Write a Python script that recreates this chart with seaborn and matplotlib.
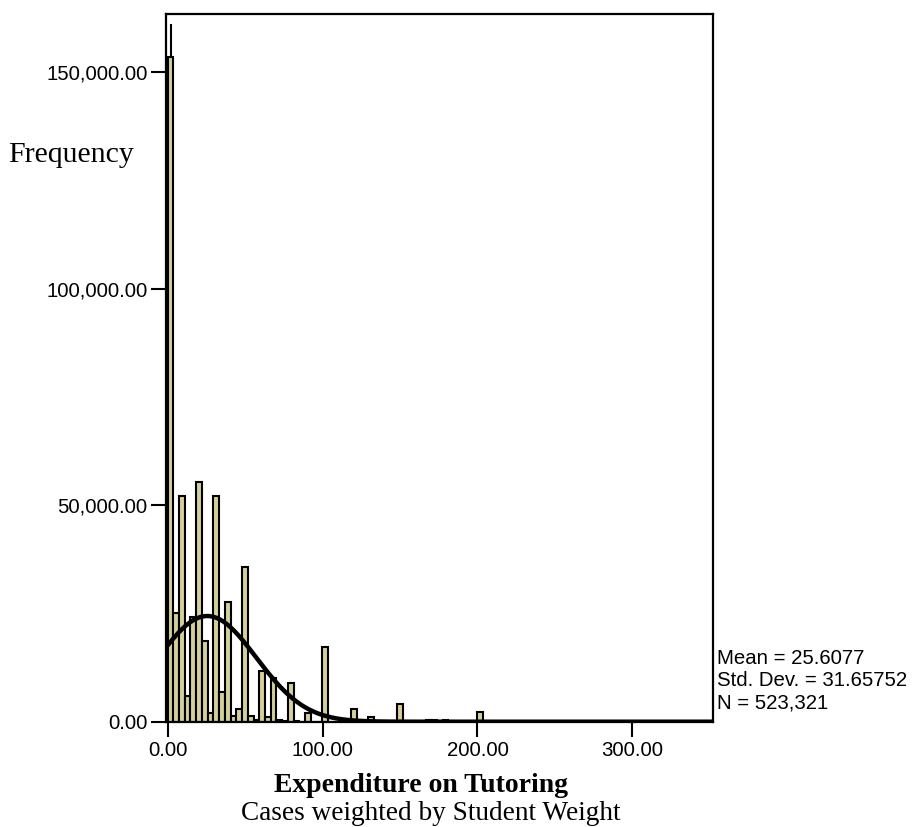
import numpy as np
import pandas as pd
import matplotlib
matplotlib.use("Agg")
import matplotlib.pyplot as plt
import seaborn as sns

# ---- data ----
bin_width = 3.7
bin_index = [0, 1, 2, 3, 4, 5, 6, 7, 8, 9, 10, 11, 12, 13, 14, 15, 16, 17, 18, 19,
             20, 21, 22, 24, 27, 32, 35, 40, 45, 46, 48, 54]
frequency = [153500, 25200, 52000, 5900, 24200, 55300, 18700, 2100, 52000, 6900,
             27700, 1300, 3000, 35800, 1300, 300, 11700, 1200, 10000, 500,
             200, 9000, 100, 2000, 17300, 2900, 1000, 4100, 300, 300, 300, 2300]
spike_x = [1.9]
spike_range = [153500, 161000]

mean_val = 25.6077
std_val = 31.65752
n_val = 523321

x_ticks = [0, 100, 200, 300]
y_ticks = [0, 50000, 100000, 150000]

df = pd.DataFrame({"center": np.array(bin_index) * bin_width + bin_width / 2,
                   "freq": frequency})
edges = [float(k * bin_width) for k in range(max(bin_index) + 2)]

# ---- figure ----
sns.set_style("white")
plt.rcParams["font.family"] = ["Liberation Sans", "DejaVu Sans"]
plt.rcParams["text.color"] = "black"
W, H = 915, 827
fig = plt.figure(figsize=(W / 100, H / 100), dpi=100)
ax = fig.add_axes([165.7 / W, 1 - 721.7 / H, (713 - 165.7) / W, (721.7 - 14.3) / H])

sns.histplot(data=df, x="center", weights="freq", bins=edges, ax=ax,
             color="#d5d09a", alpha=1, edgecolor="black", linewidth=1.5)
ax.vlines(spike_x, spike_range[0], spike_range[1], color="black", lw=1.5)

xs = np.linspace(0, 352, 600)
ys = n_val * bin_width / (std_val * np.sqrt(2 * np.pi)) * np.exp(-0.5 * ((xs - mean_val) / std_val) ** 2)
sns.lineplot(x=xs, y=ys, ax=ax, color="black", lw=3.2)

ax.set_xlim(-1.2, 352)
ax.set_ylim(0, 163300)
ax.set_xticks(x_ticks)
ax.set_xticklabels([f"{v:.2f}" for v in x_ticks])
ax.set_yticks(y_ticks)
ax.set_yticklabels([f"{v:,.2f}" for v in y_ticks])
ax.tick_params(axis="both", direction="out", length=11, width=1.5, labelsize=14.7,
               color="black", labelcolor="black", left=True, bottom=True)
ax.tick_params(axis="y", pad=2)
ax.tick_params(axis="x", pad=3)
for s in ax.spines.values():
    s.set_visible(True)
    s.set_color("black")
    s.set_linewidth(1.6)
ax.set_xlabel("")
ax.set_ylabel("")

fig.text(8 / W, 1 - 155 / H, "Frequency", family="Liberation Serif", fontsize=21.5,
         ha="left", va="center", color="black")
fig.text(421 / W, 1 - 786 / H, "Expenditure on Tutoring", family="Liberation Serif",
         fontsize=20, fontweight="bold", ha="center", va="center", color="black")
fig.text(431 / W, 1 - 814 / H, "Cases weighted by Student Weight", family="Liberation Serif",
         fontsize=19.6, ha="center", va="center", color="black")

stats = [f"Mean = {mean_val}", f"Std. Dev. = {std_val}", f"N = {n_val:,}"]
for i, t in enumerate(stats):
    fig.text(717 / W, 1 - (658 + 22.5 * i) / H, t, fontsize=14.7, ha="left", va="center",
             color="black")

fig.savefig("out.png", dpi=100)
